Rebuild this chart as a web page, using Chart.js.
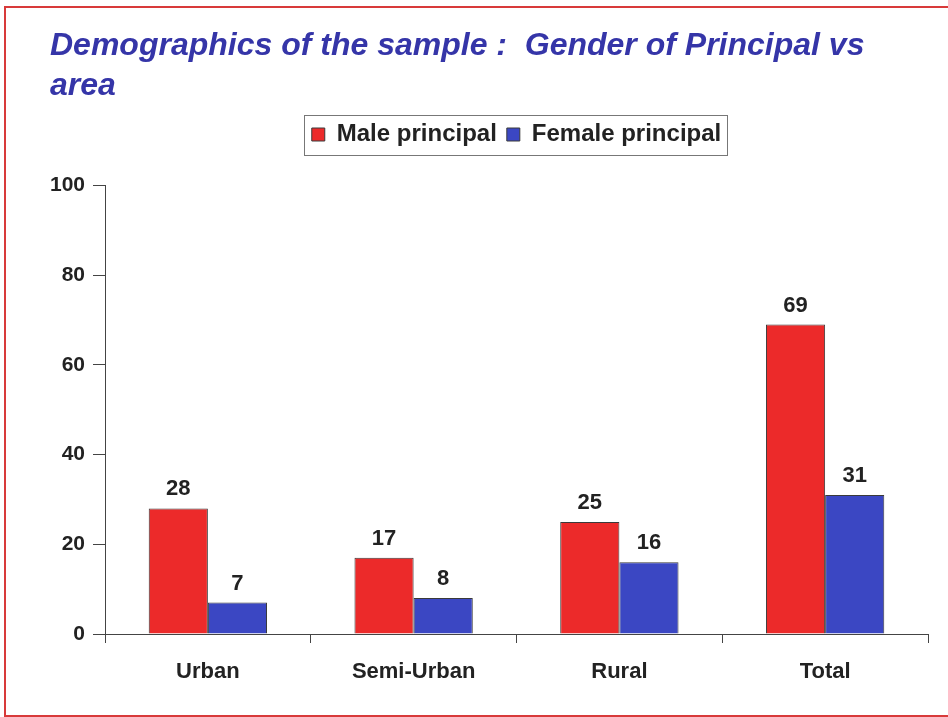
<!DOCTYPE html>
<html>
<head>
<meta charset="utf-8">
<script src="https://cdn.jsdelivr.net/npm/chart.js@4.4.1/dist/chart.umd.min.js"></script>
<style>
  html, body { margin: 0; padding: 0; background: #fff; overflow: hidden; }
  #wrap { position: relative; width: 948px; height: 717px; }
  #frame { position: absolute; left: 4px; top: 6px; width: 1000px; height: 707px; border: 2px solid #d83a3a; }
  canvas { position: absolute; left: 0; top: 0; }
</style>
</head>
<body>
<div id="wrap">
  <div id="frame"></div>
  <canvas id="chart" width="948" height="717"></canvas>
</div>
<script>
const categories = ['Urban', 'Semi-Urban', 'Rural', 'Total'];
const maleValues = [28, 17, 25, 69];
const femaleValues = [7, 8, 16, 31];
const seriesNames = ['Male principal', 'Female principal'];
const titleLines = ['Demographics of the sample :  Gender of Principal vs', 'area'];

const FONT = '"Liberation Sans", Arial, sans-serif';

// value labels above every bar
const valueLabels = {
  id: 'valueLabels',
  afterDatasetsDraw(chart) {
    const ctx = chart.ctx;
    ctx.save();
    ctx.font = 'bold 22px ' + FONT;
    ctx.fillStyle = '#222';
    ctx.textAlign = 'center';
    ctx.textBaseline = 'alphabetic';
    chart.data.datasets.forEach((ds, i) => {
      chart.getDatasetMeta(i).data.forEach((bar, j) => {
        ctx.fillText(ds.data[j], bar.x, bar.y - 13);
      });
    });
    ctx.restore();
  }
};

// box round the legend
const legendBox = {
  id: 'legendBox',
  afterDraw(chart) {
    const boxes = chart.legend.legendHitBoxes;
    if (!boxes || !boxes.length) return;
    const first = boxes[0], last = boxes[boxes.length - 1];
    const ctx = chart.ctx;
    ctx.save();
    ctx.strokeStyle = '#777';
    ctx.lineWidth = 1;
    ctx.strokeRect(Math.round(first.left - 8) + 0.5, Math.round(first.top - 8) + 0.5,
      Math.round(last.left + last.width - first.left + 14), Math.round(first.height + 16));
    ctx.restore();
  }
};

const chart = new Chart(document.getElementById('chart'), {
  type: 'bar',
  data: {
    labels: categories,
    datasets: [
      {
        label: seriesNames[0],
        data: maleValues,
        backgroundColor: '#ec2a2a',
        borderColor: '#3a3a3a',
        borderWidth: 1,
        borderSkipped: 'bottom'
      },
      {
        label: seriesNames[1],
        data: femaleValues,
        backgroundColor: '#3b47c3',
        borderColor: '#3a3a3a',
        borderWidth: 1,
        borderSkipped: 'bottom'
      }
    ]
  },
  options: {
    responsive: false,
    animation: false,
    layout: { padding: { left: 50, right: 20, top: 0, bottom: 7 } },
    datasets: { bar: { categoryPercentage: 0.575, barPercentage: 1.0 } },
    plugins: {
      title: {
        display: true,
        text: titleLines,
        align: 'start',
        color: '#3535a8',
        font: { family: FONT, size: 32, weight: 'bold', style: 'italic', lineHeight: 1.25 },
        padding: { top: 26.5, bottom: 6 }
      },
      // empty spacer between legend and plot
      subtitle: {
        display: true,
        text: '',
        weight: 500,
        font: { size: 10, lineHeight: 1 },
        padding: { top: 10, bottom: 9 }
      },
      legend: {
        position: 'top',
        fullSize: false,
        labels: {
          color: '#222',
          font: { family: FONT, size: 24, weight: 'bold' },
          boxWidth: 13,
          boxHeight: 13,
          padding: 10
        }
      },
      tooltip: { enabled: false }
    },
    scales: {
      x: {
        afterFit(s) { s.height = 76; },
        grid: { display: true, drawOnChartArea: false, drawTicks: true, tickLength: 9, color: '#444' },
        border: { color: '#444', width: 1 },
        ticks: { color: '#222', font: { family: FONT, size: 22, weight: 'bold' }, padding: 16 }
      },
      y: {
        min: 0,
        max: 100,
        afterFit(s) { s.width = 55; },
        grid: { display: true, drawOnChartArea: false, drawTicks: true, tickLength: 12, color: '#444' },
        border: { color: '#444', width: 1 },
        ticks: { stepSize: 20, color: '#222', font: { family: FONT, size: 21, weight: 'bold' }, padding: 8 }
      }
    }
  },
  plugins: [valueLabels, legendBox]
});
</script>
</body>
</html>
